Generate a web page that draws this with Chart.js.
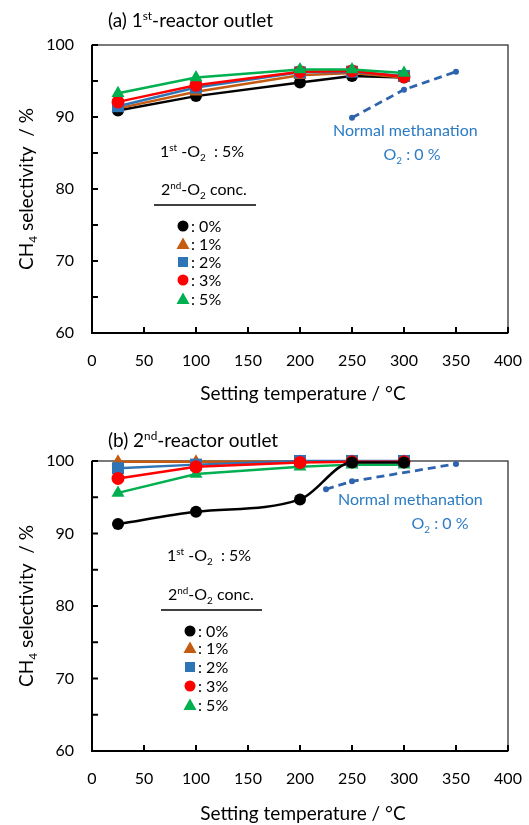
<!DOCTYPE html>
<html>
<head>
<meta charset="utf-8">
<script src="https://cdn.jsdelivr.net/npm/chart.js@4"></script>
<style>
html,body{margin:0;padding:0;background:#fff;}
#wrap{position:relative;width:529px;height:825px;}
canvas{position:absolute;left:0;}
#c1{top:0;} #c2{top:412px;}
</style>
</head>
<body>
<div id="wrap">
<canvas id="c1" width="529" height="412"></canvas>
<canvas id="c2" width="529" height="413"></canvas>
</div>
<script>
// ---- data ----
const temps = [25, 100, 200, 250, 300];
const xTickLabels = [0, 50, 100, 150, 200, 250, 300, 350, 400];
const yTickLabels = [60, 70, 80, 90, 100];
const seriesNames = [': 0%', ': 1%', ': 2%', ': 3%', ': 5%'];

// (a) 1st-reactor outlet
const a_O2_0 = [90.9, 92.9, 94.8, 95.7, 95.5];
const a_O2_1 = [91.2, 93.5, 95.8, 96.1, 95.5];
const a_O2_2 = [91.5, 94.1, 96.2, 96.3, 95.7];
const a_O2_3 = [92.1, 94.4, 96.3, 96.4, 95.6];
const a_O2_5 = [93.3, 95.5, 96.6, 96.6, 96.1];
const a_normalT = [250, 300, 350];
const a_normal = [89.9, 93.8, 96.3];

// (b) 2nd-reactor outlet
const b_O2_0 = [91.3, 93.0, 94.7, 99.8, 99.8];
const b_O2_1 = [99.9, 99.9, 99.9, 99.9, 99.9];
const b_O2_2 = [99.0, 99.5, 100.0, 100.0, 100.0];
const b_O2_3 = [97.6, 99.2, 99.8, 99.9, 99.9];
const b_O2_5 = [95.6, 98.2, 99.2, 99.5, 99.5];
const b_normalT = [225, 250, 350];
const b_normal = [96.1, 97.2, 99.6];

// ---- styles ----
const FONT = "Lato, 'Open Sans', sans-serif";
const COLORS = ['#000000', '#C55A11', '#2E75B6', '#FF0000', '#00B050'];
const SHAPES = ['circle', 'triangle', 'rect', 'circle', 'triangle'];
const RADII = [6, 7.5, 8.5, 6.5, 7.5];
const NORMAL_LINE = '#2E63AD';
const NORMAL_TEXT = '#2B7BC4';

function pts(xs, ys) { return xs.map((x, i) => ({x: x, y: ys[i]})); }

function rich(ctx, x, y, parts, size, color, align) {
  ctx.save();
  ctx.fillStyle = color;
  ctx.textBaseline = 'alphabetic';
  let w = 0;
  const segs = parts.map(p => {
    const s = p[1] ? size * 0.62 : size;
    ctx.font = s + 'px ' + FONT;
    const m = ctx.measureText(p[0]).width;
    w += m;
    return {t: p[0], s: s, m: m, mode: p[1] || 0};
  });
  let cx = align === 'center' ? x - w / 2 : x;
  segs.forEach(sg => {
    ctx.font = sg.s + 'px ' + FONT;
    const dy = sg.mode === 1 ? -size * 0.38 : sg.mode === -1 ? size * 0.22 : 0;
    ctx.fillText(sg.t, cx, y + dy);
    cx += sg.m;
  });
  ctx.restore();
  return w;
}

function marker(ctx, shape, color, x, y) {
  ctx.save();
  ctx.fillStyle = color;
  ctx.beginPath();
  if (shape === 'circle') { ctx.arc(x, y, 5.5, 0, Math.PI * 2); }
  else if (shape === 'triangle') { ctx.moveTo(x, y - 6.5); ctx.lineTo(x + 6.5, y + 5); ctx.lineTo(x - 6.5, y + 5); ctx.closePath(); }
  else { ctx.rect(x - 5, y - 5, 10, 10); }
  ctx.fill();
  ctx.restore();
}

const framePlugin = {
  id: 'frame',
  beforeDatasetsDraw(chart) {
    const {ctx, chartArea: a, scales: {x, y}} = chart;
    ctx.save();
    ctx.strokeStyle = '#222';
    ctx.lineWidth = 1.2;
    ctx.strokeRect(a.left, a.top, a.right - a.left, a.bottom - a.top);
    ctx.strokeStyle = '#000';
    ctx.lineWidth = 2;
    ctx.beginPath();
    ctx.moveTo(a.left, a.top); ctx.lineTo(a.left, a.bottom); ctx.lineTo(a.right, a.bottom);
    xTickLabels.forEach(v => { const p = x.getPixelForValue(v); ctx.moveTo(p, a.bottom); ctx.lineTo(p, a.bottom - 6); });
    y.ticks.forEach(t => { const p = y.getPixelForValue(t.value); ctx.moveTo(a.left, p); ctx.lineTo(a.left + 6, p); });
    ctx.stroke();
    // x tick labels
    ctx.fillStyle = '#000';
    ctx.font = '16px ' + FONT;
    ctx.textAlign = 'center';
    ctx.textBaseline = 'middle';
    xTickLabels.forEach(v => { ctx.fillText(String(v), x.getPixelForValue(v), a.bottom + 28); });
    ctx.restore();
  },
  afterDraw(chart, args, o) {
    const {ctx, chartArea: a} = chart;
    const L = o.L;
    rich(ctx, 108, L.titleY, [['(' + L.letter + ') ' + L.num], [L.ord, 1], ['-reactor outlet']], 19, '#000');
    ctx.save();
    ctx.translate(33, (a.top + a.bottom) / 2);
    ctx.rotate(-Math.PI / 2);
    rich(ctx, 0, 0, [['CH'], ['4', -1], [' selectivity  / %']], 19, '#000', 'center');
    ctx.restore();
    rich(ctx, 303, L.xTitleY, [['Setting temperature / \u00B0C']], 19, '#000', 'center');
    rich(ctx, L.nmX, L.nmY, [['Normal methanation']], 16, NORMAL_TEXT);
    rich(ctx, L.o2X, L.nmY + 24, [['O'], ['2', -1], [' : 0 %']], 16, NORMAL_TEXT, 'center');
    rich(ctx, L.firstX, L.firstY, [['1'], ['st', 1], [' -O'], ['2', -1], ['  : 5%']], 16, '#000');
    rich(ctx, L.secX, L.secY, [['2'], ['nd', 1], ['-O'], ['2', -1], [' conc.']], 16, '#000');
    ctx.save();
    ctx.strokeStyle = '#000'; ctx.lineWidth = 1.3;
    ctx.beginPath(); ctx.moveTo(L.ulX1, L.ulY); ctx.lineTo(L.ulX2, L.ulY); ctx.stroke();
    ctx.restore();
    for (let i = 0; i < 5; i++) {
      const yy = L.rowY[i];
      marker(ctx, SHAPES[i], COLORS[i], L.mX, yy);
      rich(ctx, L.mX + 8, yy + 6, [[seriesNames[i]]], 16, '#000');
    }
  }
};

function makeChart(id, series, nT, nV, orders, layoutInfo, padTop, xH, smoothBlack) {
  const datasets = series.map((s, i) => ({
    data: pts(temps, s),
    borderColor: COLORS[i],
    backgroundColor: COLORS[i],
    pointBackgroundColor: COLORS[i],
    pointBorderColor: COLORS[i],
    pointStyle: SHAPES[i],
    pointRadius: RADII[i],
    pointBorderWidth: 0,
    borderWidth: 2.5,
    clip: false,
    order: orders[i],
    cubicInterpolationMode: (smoothBlack && i === 0) ? 'monotone' : 'default',
    tension: 0
  }));
  datasets.push({
    data: pts(nT, nV),
    borderColor: NORMAL_LINE,
    backgroundColor: NORMAL_LINE,
    pointBackgroundColor: NORMAL_LINE,
    pointStyle: 'circle',
    pointRadius: 3,
    pointBorderWidth: 0,
    borderWidth: 2.8,
    borderDash: [8, 5],
    clip: false,
    order: 10
  });
  return new Chart(document.getElementById(id), {
    type: 'line',
    data: {datasets: datasets},
    options: {
      responsive: false,
      animation: false,
      events: [],
      layout: {padding: {top: padTop, right: 21, left: 0, bottom: 0}},
      plugins: {legend: {display: false}, tooltip: {enabled: false}, frame: {L: layoutInfo}},
      scales: {
        x: {
          type: 'linear', min: 0, max: 400,
          afterFit: s => { s.height = xH; },
          grid: {display: false, drawTicks: false},
          border: {display: false},
          ticks: {display: false, stepSize: 50}
        },
        y: {
          type: 'linear', min: 60, max: 100,
          afterFit: s => { s.width = 92; },
          ticks: {stepSize: 5, padding: 18, color: '#000', font: {family: FONT, size: 16},
            callback: v => yTickLabels.includes(v) ? String(v) : ''},
          grid: {display: false, drawTicks: false},
          border: {display: false}
        }
      }
    },
    plugins: [framePlugin]
  });
}

makeChart('c1', [a_O2_0, a_O2_1, a_O2_2, a_O2_3, a_O2_5], a_normalT, a_normal,
  [5, 4, 3, 2, 1],
  {letter: 'a', num: '1', ord: 'st', titleY: 27, xTitleY: 400,
   nmX: 333, nmY: 136, o2X: 412,
   firstX: 160, firstY: 157, secX: 161, secY: 195, ulX1: 154, ulX2: 256, ulY: 205,
   mX: 183, rowY: [226, 244, 262, 280, 299]},
  45, 79, false);

makeChart('c2', [b_O2_0, b_O2_1, b_O2_2, b_O2_3, b_O2_5], b_normalT, b_normal,
  [1, 4, 3, 2, 5],
  {letter: 'b', num: '2', ord: 'nd', titleY: 35, xTitleY: 408,
   nmX: 338, nmY: 93, o2X: 440,
   firstX: 167, firstY: 149, secX: 168, secY: 188, ulX1: 161, ulX2: 262, ulY: 198,
   mX: 190, rowY: [219, 236, 255, 274, 293]},
  49, 74, true);
</script>
</body>
</html>
